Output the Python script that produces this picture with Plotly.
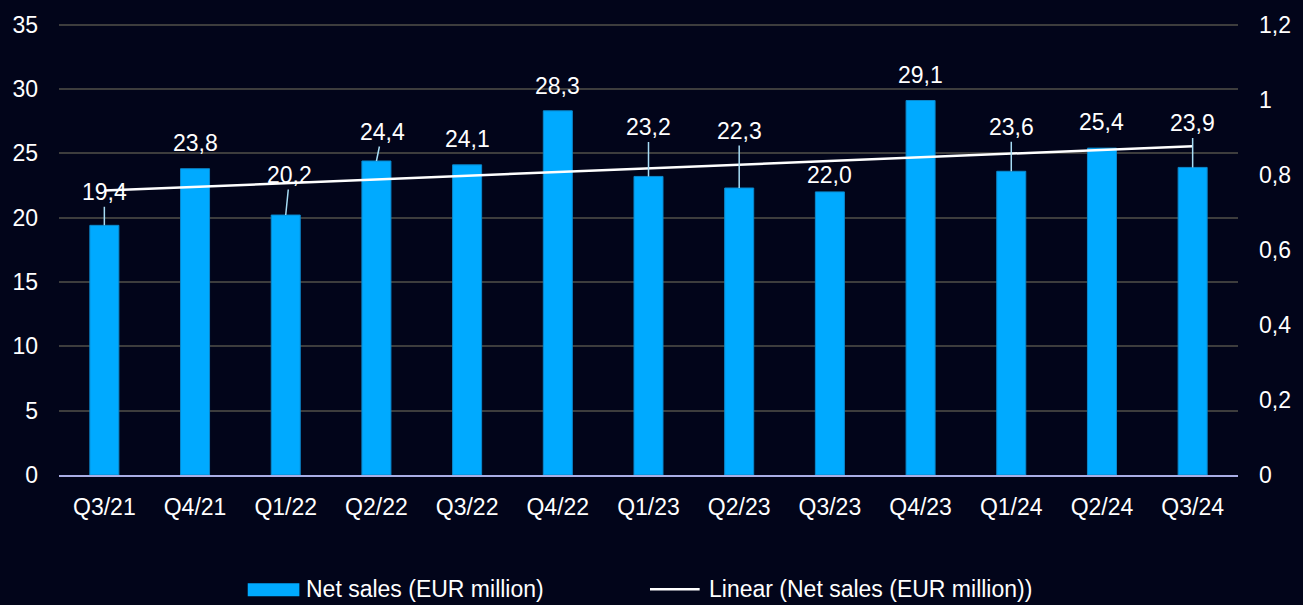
import plotly.graph_objects as go

# ---- data ----
quarters = ["Q3/21", "Q4/21", "Q1/22", "Q2/22", "Q3/22", "Q4/22", "Q1/23",
            "Q2/23", "Q3/23", "Q4/23", "Q1/24", "Q2/24", "Q3/24"]
net_sales = [19.4, 23.8, 20.2, 24.4, 24.1, 28.3, 23.2, 22.3, 22.0, 29.1, 23.6, 25.4, 23.9]
trend_quarters = ["Q3/21", "Q3/24"]
trend_values = [22.1, 25.55]
left_ticks = [0, 5, 10, 15, 20, 25, 30, 35]
right_ticks = [0, 0.2, 0.4, 0.6, 0.8, 1.0, 1.2]

# label placement (pixel offsets of label centre from bar top) and leader-line flag
label_dx = [0, 0, 4, 6, 0, 0, 0, 0, 0, 0, 0, 0, 0]
label_dy = [-33, -26, -40, -29, -26, -25, -49, -57, -17, -26, -44, -26, -44]
leader = [True, False, True, True, False, False, True, True, False, False, True, False, True]

BG = "#02051a"
BAR = "#00aaff"
FONT = "Liberation Sans, Arial, sans-serif"
FS = 23
Y_TOP = 35.2  # small headroom so the 35 gridline is drawn

fig = go.Figure()
fig.add_trace(go.Bar(
    x=quarters, y=net_sales, name="Net sales (EUR million)",
    marker=dict(color=BAR, line=dict(color="#0b88cc", width=1)),
    showlegend=False, hoverinfo="skip",
))
fig.add_trace(go.Scatter(
    x=trend_quarters, y=trend_values, mode="lines",
    name="Linear (Net sales (EUR million))",
    line=dict(color="white", width=2.5), showlegend=False,
))
# carrier for the secondary (right) axis, draws nothing
fig.add_trace(go.Scatter(
    x=quarters, y=[None] * len(quarters), yaxis="y2", mode="lines",
    showlegend=False, hoverinfo="skip",
))

annotations = []
for q, v, dx, dy, ld in zip(quarters, net_sales, label_dx, label_dy, leader):
    annotations.append(dict(
        x=q, y=v, xref="x", yref="y",
        text=f"{v:.1f}".replace(".", ","),
        showarrow=True, ax=dx, ay=dy, arrowhead=0, arrowwidth=1.5,
        arrowcolor="#a6dcf5" if ld else "rgba(0,0,0,0)",
        standoff=0, startstandoff=0,
        font=dict(color="white", size=FS, family=FONT),
    ))

# custom legend (matching the wide swatches of the reference)
PLOT_H = 605 - 19 - 130
def py(pix):  # pixel row -> paper y
    return (475 - pix) / PLOT_H
def px(pix):  # pixel column -> paper x
    return (pix - 58) / (1303 - 58 - 58)

LEG_Y = py(590)
annotations.append(dict(
    x=px(305), y=LEG_Y, xref="paper", yref="paper", xanchor="left", yanchor="middle",
    text="Net sales (EUR million)", showarrow=False,
    font=dict(color="white", size=FS, family=FONT)))
annotations.append(dict(
    x=px(710), y=LEG_Y, xref="paper", yref="paper", xanchor="left", yanchor="middle",
    text="Linear (Net sales (EUR million))", showarrow=False,
    font=dict(color="white", size=FS, family=FONT)))

shapes = [
    dict(type="rect", xref="paper", yref="paper", x0=px(248), x1=px(300),
         y0=py(597), y1=py(584), fillcolor=BAR, line=dict(width=0)),
    dict(type="line", xref="paper", yref="paper", x0=px(653), x1=px(703),
         y0=LEG_Y, y1=LEG_Y, line=dict(color="white", width=2.5)),
]

fig.update_layout(
    width=1303, height=605,
    paper_bgcolor=BG, plot_bgcolor=BG,
    margin=dict(l=58, r=58, t=19, b=130),
    separators=", ",
    bargap=0.68,
    font=dict(family=FONT, size=FS, color="white"),
    annotations=annotations,
    shapes=shapes,
    showlegend=False,
    xaxis=dict(
        showgrid=False, showline=True, linecolor="#a9aee6", linewidth=2,
        ticks="", tickfont=dict(size=FS, color="white"), ticklabelstandoff=10,
    ),
    yaxis=dict(
        range=[0, Y_TOP], tickvals=left_ticks, showgrid=True, gridcolor="#3d3d3d",
        gridwidth=1.5, zeroline=False, showline=False, ticks="",
        tickfont=dict(size=FS, color="white"), ticklabelstandoff=20,
    ),
    yaxis2=dict(
        range=[0, 1.2 * Y_TOP / 35], tickvals=right_ticks, overlaying="y", side="right",
        showgrid=False, zeroline=False, showline=False, ticks="",
        tickfont=dict(size=FS, color="white"), ticklabelstandoff=20,
    ),
)

fig.write_html(
    "out.html",
    config={"displayModeBar": False},
    post_script="document.body.style.margin='0';document.body.style.background='%s';" % BG,
)
